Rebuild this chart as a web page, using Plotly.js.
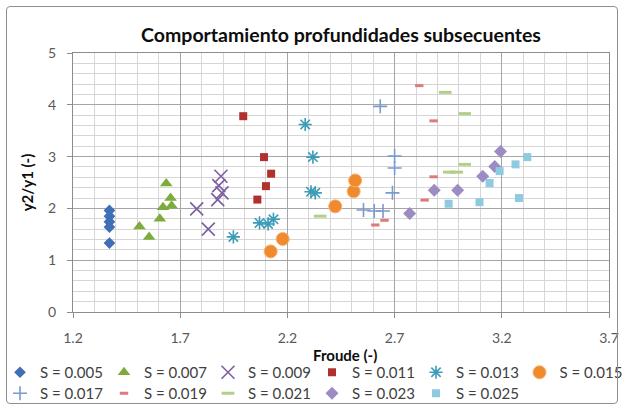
<!DOCTYPE html>
<html><head><meta charset="utf-8">
<script src="https://cdn.plot.ly/plotly-3.0.1.min.js"></script>
<style>
html,body{margin:0;padding:0;background:#fff;}
#wrap{position:relative;width:623px;height:405px;overflow:hidden;}
#chart{width:623px;height:405px;}
#frame{position:absolute;left:6px;top:6px;width:610px;height:396px;border:1px solid #8f8f8f;border-radius:4px;pointer-events:none;}
</style></head><body>
<div id="wrap"><div id="chart"></div><div id="frame"></div></div>
<script>
// Series labels
const seriesNames = ['S = 0.005','S = 0.007','S = 0.009','S = 0.011','S = 0.013','S = 0.015',
                     'S = 0.017','S = 0.019','S = 0.021','S = 0.023','S = 0.025'];
const xTitle = 'Froude (-)';
const yTitle = 'y2/y1 (-)';
const chartTitle = 'Comportamiento profundidades subsecuentes';

// Froude number (x) and y2/y1 (y) per slope series
const fr_005 = [1.37, 1.37, 1.37, 1.37, 1.37];
const yr_005 = [1.96, 1.85, 1.74, 1.64, 1.33];

const fr_007 = [1.51, 1.555, 1.605, 1.62, 1.635, 1.655, 1.66];
const yr_007 = [1.65, 1.45, 1.80, 2.02, 2.48, 2.20, 2.05];

const fr_009 = [1.777, 1.831, 1.89, 1.88, 1.895, 1.875];
const yr_009 = [1.99, 1.60, 2.62, 2.44, 2.30, 2.17];

const fr_011 = [1.994, 2.06, 2.091, 2.100, 2.124];
const yr_011 = [3.78, 2.17, 2.99, 2.43, 2.67];

const fr_013 = [1.948, 2.07, 2.11, 2.135, 2.283, 2.319, 2.31, 2.33];
const yr_013 = [1.45, 1.72, 1.70, 1.79, 3.62, 2.99, 2.32, 2.30];

const fr_015 = [2.122, 2.178, 2.423, 2.509, 2.516];
const yr_015 = [1.17, 1.41, 2.04, 2.33, 2.54];

const fr_017 = [2.555, 2.605, 2.646, 2.69, 2.70, 2.70, 2.633];
const yr_017 = [1.97, 1.95, 1.95, 2.30, 2.78, 3.01, 3.97];

const fr_019 = [2.61, 2.653, 2.84, 2.882, 2.882, 2.815];
const yr_019 = [1.68, 1.77, 2.16, 2.61, 3.69, 4.37];

const fr_021 = [2.353, 2.955, 2.99, 3.027, 3.027, 2.936];
const yr_021 = [1.85, 2.70, 2.70, 2.85, 3.83, 4.24];

const fr_023 = [2.77, 2.885, 2.994, 3.111, 3.167, 3.194];
const yr_023 = [1.90, 2.35, 2.35, 2.62, 2.81, 3.10];

const fr_025 = [2.952, 3.096, 3.143, 3.19, 3.264, 3.28, 3.319];
const yr_025 = [2.09, 2.12, 2.49, 2.72, 2.85, 2.20, 2.99];

const xs = [fr_005, fr_007, fr_009, fr_011, fr_013, fr_015, fr_017, fr_019, fr_021, fr_023, fr_025];
const ys = [yr_005, yr_007, yr_009, yr_011, yr_013, yr_015, yr_017, yr_019, yr_021, yr_023, yr_025];

// marker styles (presentation)
const styles = [
  {symbol:'diamond', size:9, color:'#3f6fb5'},
  {symbol:'triangle-up', size:11, color:'#7eab3e'},
  {symbol:'x-thin-open', size:13, color:'#7d5fa0', line:{color:'#7d5fa0', width:1.6}},
  {symbol:'square', size:8, color:'#b2302e'},
  {symbol:'asterisk-open', size:11, color:'#3d9cb8', line:{color:'#3d9cb8', width:1.6}},
  {symbol:'circle', size:13, color:'#f08a2c', line:{color:'#f6b276', width:1}},
  {symbol:'cross-thin-open', size:10, color:'#7b9ad0', line:{color:'#7b9ad0', width:1.6}},
  {symbol:'line-ew-open', size:6, color:'#e07a7a', line:{color:'#e07a7a', width:3}},
  {symbol:'line-ew-open', size:9, color:'#b3cf85', line:{color:'#b3cf85', width:3}},
  {symbol:'diamond', size:10, color:'#9d8cc3'},
  {symbol:'square', size:8, color:'#8fcbe0'}
];
// legend row/box each series belongs to
const legendOf = ['legend','legend','legend','legend','legend','legend3',
                  'legend2','legend2','legend2','legend2','legend2'];

const traces = seriesNames.map((name, i) => {
  const st = styles[i];
  const marker = {symbol: st.symbol, size: st.size, color: st.color};
  marker.line = st.line ? st.line : {width: 0};
  return {
    type: 'scatter', mode: 'markers', name: name,
    x: xs[i], y: ys[i], marker: marker,
    legend: legendOf[i],
    hoverinfo: 'x+y+name'
  };
});

const gridMajor = '#a6a6a6', gridMinor = '#d6d6d6', axisCol = '#8c8c8c';
const legendBase = {
  orientation: 'h', xref: 'container', yref: 'container', x: 0.0, xanchor: 'left',
  yanchor: 'top', entrywidth: 59, entrywidthmode: 'pixels', traceorder: 'normal',
  font: {family: 'Lato, sans-serif', size: 15, color: '#404040'},
  bgcolor: 'rgba(0,0,0,0)', borderwidth: 0, itemclick: false, itemdoubleclick: false
};

const layout = {
  width: 623, height: 405,
  margin: {l: 73, r: 13.5, t: 53, b: 92.5, autoexpand: false},
  paper_bgcolor: '#ffffff', plot_bgcolor: '#ffffff',
  font: {family: 'Lato, sans-serif', size: 14, color: '#595959'},
  title: {
    text: chartTitle,
    font: {family: 'Lato, sans-serif', size: 19.5, color: '#0d0d0d', weight: 'bold'},
    xref: 'paper', x: 0.5, xanchor: 'center', yref: 'container', y: 1 - 35/405, yanchor: 'middle'
  },
  xaxis: {
    range: [1.2, 3.7], tick0: 1.2, dtick: 0.5, tickformat: '.1f',
    showgrid: true, gridcolor: gridMajor, gridwidth: 1,
    minor: {dtick: 0.1, showgrid: true, gridcolor: gridMinor, gridwidth: 1},
    ticks: 'outside', ticklen: 5, tickcolor: axisCol, ticklabelstandoff: 8,
    showline: true, linecolor: axisCol, linewidth: 1, mirror: true, zeroline: false,
    tickfont: {size: 14, color: '#595959'}
  },
  yaxis: {
    range: [0, 5], tick0: 0, dtick: 1,
    showgrid: true, gridcolor: gridMajor, gridwidth: 1,
    minor: {dtick: 0.2, showgrid: true, gridcolor: gridMinor, gridwidth: 1},
    ticks: 'outside', ticklen: 5, tickcolor: axisCol, ticklabelstandoff: 8,
    showline: true, linecolor: axisCol, linewidth: 1, mirror: true, zeroline: false,
    tickfont: {size: 14, color: '#595959'},
    title: {text: yTitle, font: {size: 15, color: '#0d0d0d', weight: 'bold'}}
  },
  annotations: [{
    text: xTitle, showarrow: false,
    xref: 'paper', x: 0.507, xanchor: 'center',
    yref: 'paper', y: -0.165, yanchor: 'middle',
    font: {family: 'Lato, sans-serif', size: 15, color: '#0d0d0d', weight: 'bold'}
  }],
  legend: Object.assign({}, legendBase, {x: -3/623, y: 1 - 356/405}),
  legend3: Object.assign({}, legendBase, {x: (-3 + 5*104.5)/623, y: 1 - 356/405}),
  legend2: Object.assign({}, legendBase, {x: -3/623, y: 1 - 377/405}),
  showlegend: true
};

Plotly.newPlot('chart', traces, layout, {displayModeBar: false, staticPlot: true});
</script>
</body></html>
